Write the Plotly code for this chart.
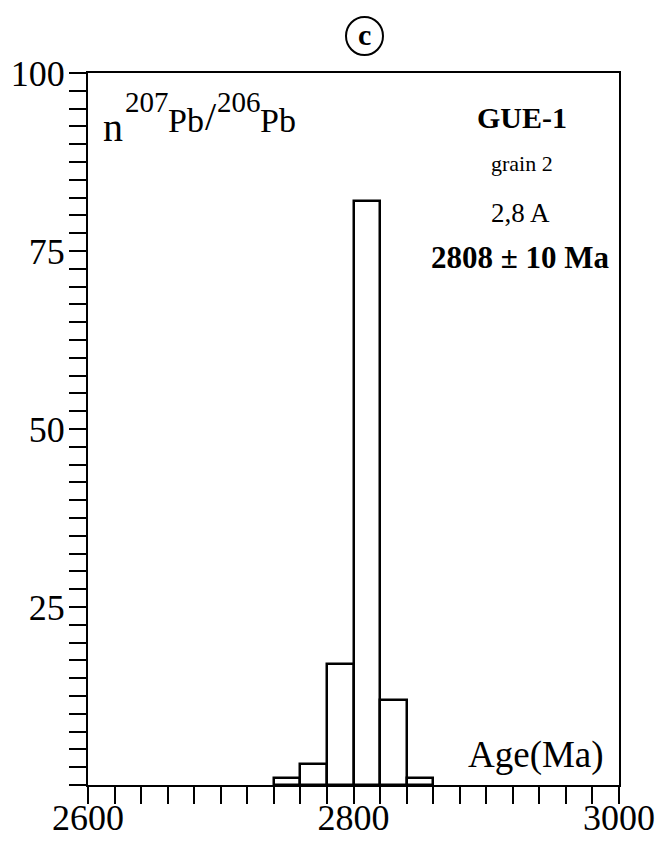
import plotly.graph_objects as go

# ---- data ----
bin_start = [2740, 2760, 2780, 2800, 2820, 2840]   # Ma, left edge of each bin
bin_width = 20                                       # Ma
counts = [1, 3, 17, 82, 12, 1]                       # n 207Pb/206Pb
x_tick_vals = [2600, 2800, 3000]
y_tick_vals = [25, 50, 75, 100]

FONT = "Liberation Serif"
W, H = 656, 847
# plot area in page pixels: left 88, right 619, top 73, bottom 785
L, T = 88, 73
R = W - 619
B = H - 785
PW, PH = W - L - R, H - T - B


def px2x(px):
    return (px - L) / PW


def py2y(py):
    return (H - B - py) / PH


centers = [s + bin_width / 2 for s in bin_start]

fig = go.Figure()
fig.add_trace(go.Bar(
    x=centers, y=counts, width=[bin_width] * len(counts),
    marker=dict(color="white", line=dict(color="black", width=2.5)),
    showlegend=False, hoverinfo="skip",
))

axis_common = dict(
    showline=True, linecolor="black", linewidth=2, mirror=True,
    showgrid=False, zeroline=False, automargin=False,
    ticks="outside", ticklen=17, tickwidth=2, tickcolor="black",
    ticklabeloverflow="allow",
)

fig.update_xaxes(
    range=[2600, 3000], tickvals=x_tick_vals, ticklabelstandoff=-17,
    tickfont=dict(family=FONT, size=36, color="black"),
    minor=dict(dtick=20, tick0=2600, ticks="outside", ticklen=17,
               tickwidth=2, tickcolor="black", showgrid=False),
    **axis_common,
)
fig.update_yaxes(
    range=[0, 100], tickvals=y_tick_vals, ticklabelstandoff=-3,
    tickfont=dict(family=FONT, size=36, color="black"),
    minor=dict(dtick=2.5, tick0=0, ticks="outside", ticklen=17,
               tickwidth=2, tickcolor="black", showgrid=False),
    **axis_common,
)


def ann(text, px, py, size, xanchor="left", bold=False):
    if bold:
        text = "<b>" + text + "</b>"
    fig.add_annotation(
        text=text, xref="paper", yref="paper", x=px2x(px), y=py2y(py),
        xanchor=xanchor, yanchor="middle", showarrow=False,
        font=dict(family=FONT, size=size, color="black"), borderpad=0,
    )


# y-axis title built from pieces (n 207Pb/206Pb)
ann("n", 102, 127, 40)
ann("207", 124, 102, 29)
ann("Pb", 167, 120, 34)
ann("/", 204, 116, 40)
ann("206", 216, 102, 29)
ann("Pb", 259, 120, 34)

# sample info
ann("GUE-1", 522, 118, 30, xanchor="center", bold=True)
ann("grain 2", 522, 164, 22, xanchor="center")
ann("2,8 A", 520, 213, 27, xanchor="center")
ann("2808 ± 10 Ma", 611, 257, 31, xanchor="right", bold=True)

# x-axis title
ann("Age(Ma)", 605, 755, 37, xanchor="right")

# panel label (c) in a circle
fig.add_shape(type="circle", xref="paper", yref="paper",
              x0=px2x(346), x1=px2x(383), y0=py2y(55), y1=py2y(17),
              line=dict(color="black", width=2))
ann("c", 364, 35, 30, xanchor="center", bold=True)

fig.update_layout(
    width=W, height=H,
    margin=dict(l=L, r=R, t=T, b=B, pad=0, autoexpand=False),
    paper_bgcolor="white", plot_bgcolor="white",
    font=dict(family=FONT, color="black"),
    bargap=0,
)

fig.write_html(
    "out.html",
    config={"displayModeBar": False},
    post_script=(
        "document.body.style.margin='0';"
        "document.documentElement.style.overflow='hidden';"
        "document.body.style.overflow='hidden';"
    ),
)
